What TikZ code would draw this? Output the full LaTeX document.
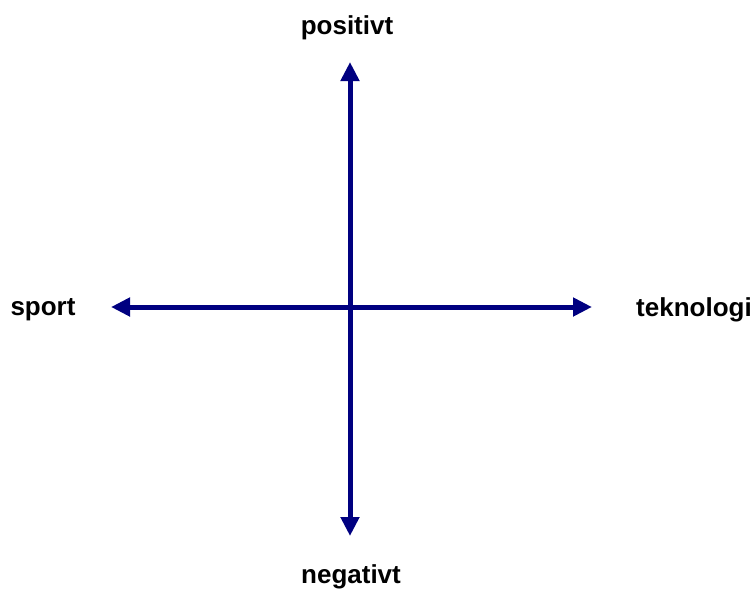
\documentclass[tikz,border=0pt]{standalone}
\usepackage{fontspec}
\setmainfont{Liberation Sans}
\usetikzlibrary{arrows.meta}
\definecolor{axisblue}{RGB}{0,0,128}
\begin{document}
\begin{tikzpicture}[x=1pt,y=-1pt,
  axis/.style={draw=axisblue,line width=5pt,{Triangle[width=18pt,length=19pt]}-{Triangle[width=18pt,length=19pt]}},
  lbl/.style={font=\fontsize{26}{30}\selectfont\bfseries,inner sep=0pt}]
\useasboundingbox (0,0) rectangle (756,590);
\coordinate (top) at (350,62);
\coordinate (bot) at (350,536);
\coordinate (left) at (111,307);
\coordinate (right) at (592,307);
\node[lbl] (pos) at (347,28) {positivt};
\node[lbl,anchor=south] (neg) at (351,589) {negativt};
\node[lbl] (sport) at (43,310) {sport};
\node[lbl] (tek) at (694,310) {teknologi};
\draw[axis] (top) -- (bot);
\draw[axis] (left) -- (right);
\end{tikzpicture}
\end{document}
